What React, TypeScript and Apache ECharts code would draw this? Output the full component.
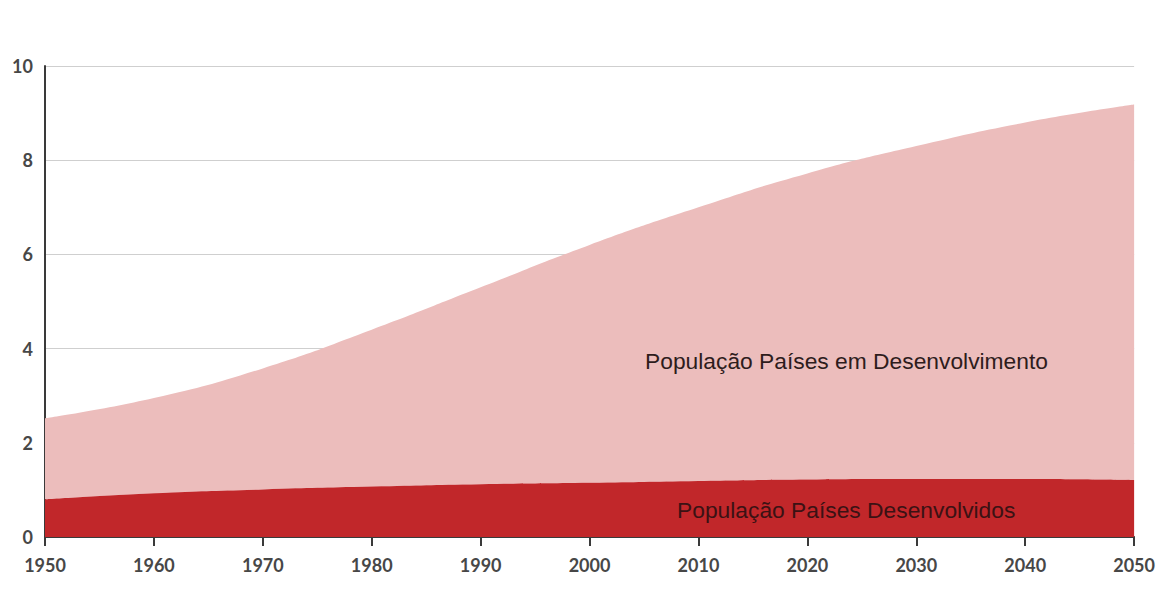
import React, { useEffect, useRef } from "react";
import * as echarts from "echarts";

const years = ["1950", "1960", "1970", "1980", "1990", "2000", "2010", "2020", "2030", "2040", "2050"];
const developed = [0.8, 0.93, 1.01, 1.07, 1.12, 1.15, 1.19, 1.22, 1.23, 1.23, 1.21];
const total = [2.52, 2.95, 3.58, 4.4, 5.3, 6.2, 7.0, 7.72, 8.3, 8.8, 9.18];
const developing = total.map((t, i) => +(t - developed[i]).toFixed(3));

const labelDeveloping = "População Países em Desenvolvimento";
const labelDeveloped = "População Países Desenvolvidos";

export default function App() {
  const ref = useRef<HTMLDivElement>(null);
  useEffect(() => {
    const chart = echarts.init(ref.current!, null, { renderer: "svg" });
    chart.setOption({
      animation: false,
      grid: { left: 45, right: 13, top: 66, bottom: 57 },
      xAxis: {
        type: "category",
        boundaryGap: false,
        data: years,
        axisLine: { show: true, lineStyle: { color: "#3a3a3a", width: 2 } },
        axisTick: { show: true, length: 9, alignWithLabel: true, lineStyle: { color: "#3a3a3a", width: 2 } },
        axisLabel: { color: "#474747", fontSize: 18, fontWeight: "bold", fontFamily: "Lato", margin: 19 },
        splitLine: { show: false },
      },
      yAxis: {
        type: "value",
        min: 0,
        max: 10,
        interval: 2,
        axisLine: { show: true, lineStyle: { color: "#3a3a3a", width: 2 } },
        axisTick: { show: false },
        axisLabel: {
          color: "#474747",
          fontSize: 18,
          fontWeight: "bold",
          fontFamily: "Lato",
          margin: 12,
          padding: [0, 0, 5, 0],
        },
        splitLine: { show: true, lineStyle: { color: "#cfcfcf", width: 1 } },
      },
      series: [
        {
          name: labelDeveloped,
          type: "line",
          stack: "pop",
          smooth: true,
          symbol: "none",
          lineStyle: { width: 0 },
          areaStyle: { color: "#c1272a", opacity: 1 },
          data: developed,
          z: 3,
        },
        {
          name: labelDeveloping,
          type: "line",
          stack: "pop",
          smooth: true,
          symbol: "none",
          lineStyle: { width: 0 },
          areaStyle: { color: "#ecbdbc", opacity: 1 },
          data: developing,
          z: 2,
        },
      ],
      graphic: [
        {
          type: "text",
          left: 645,
          top: 349,
          z: 100,
          style: { text: labelDeveloping, fill: "#2e1c1c", fontSize: 22.8, fontFamily: "Liberation Sans" },
        },
        {
          type: "text",
          left: 677,
          top: 498,
          z: 100,
          style: { text: labelDeveloped, fill: "#3b1214", fontSize: 22.8, fontFamily: "Liberation Sans" },
        },
      ],
    });
    return () => chart.dispose();
  }, []);
  return (
    <div
      ref={ref}
      style={{ position: "absolute", left: 0, top: 0, width: 1158, height: 594, background: "#ffffff" }}
    />
  );
}
